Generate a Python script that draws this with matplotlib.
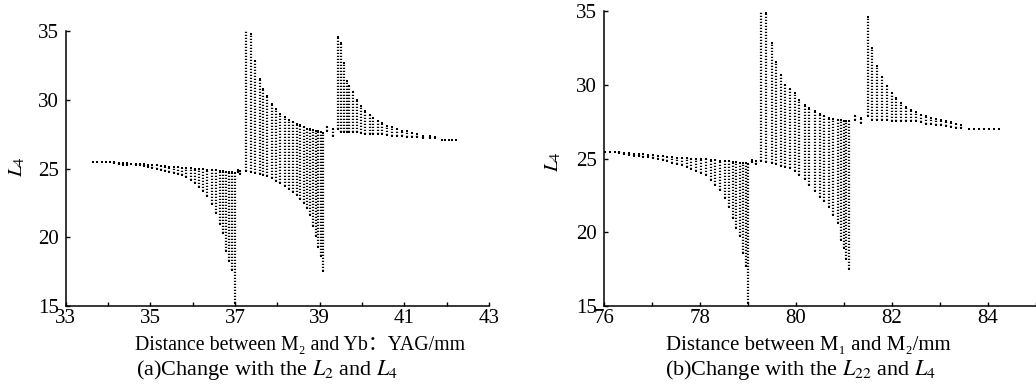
import numpy as np
import matplotlib
matplotlib.use("Agg")
import matplotlib.pyplot as plt

# ---- panel (a): columns of L4 solutions vs distance M2 - Yb:YAG ----
a_x = [33.65, 33.75, 33.85, 33.95, 34.05, 34.15, 34.25, 34.35, 34.45, 34.55, 34.65, 34.75,
       34.85, 34.95, 35.05, 35.15, 35.25, 35.35, 35.45, 35.55, 35.65, 35.75, 35.85, 35.95,
       36.05, 36.15, 36.25, 36.35, 36.45, 36.55, 36.65, 36.72, 36.79, 36.86, 36.93, 37.00,
       37.06, 37.12,
       37.26, 37.37, 37.48, 37.59, 37.67, 37.75, 37.87, 37.97, 38.07, 38.17, 38.27, 38.38,
       38.46, 38.54, 38.62, 38.70, 38.78, 38.85, 38.91, 38.97, 39.03, 39.08,
       39.18, 39.32,
       39.44, 39.50, 39.58, 39.64, 39.70, 39.78, 39.88, 39.97, 40.08, 40.18, 40.27, 40.37,
       40.47, 40.59, 40.71, 40.83, 40.94, 41.06, 41.18, 41.30, 41.45, 41.61, 41.73, 41.89,
       41.97, 42.05, 42.13, 42.21]
a_top = [25.45, 25.45, 25.45, 25.45, 25.45, 25.44, 25.42, 25.42, 25.40, 25.36, 25.34, 25.32,
         25.30, 25.28, 25.25, 25.22, 25.20, 25.17, 25.14, 25.12, 25.10, 25.07, 25.05, 25.02,
         25.00, 24.98, 24.95, 24.92, 24.90, 24.86, 24.83, 24.80, 24.78, 24.75, 24.72, 24.70,
         24.90, 24.85,
         35.10, 34.80, 32.80, 31.50, 30.80, 30.30, 29.70, 29.30, 29.00, 28.75, 28.55, 28.40,
         28.25, 28.15, 28.00, 27.90, 27.85, 27.80, 27.75, 27.70, 27.65, 27.60,
         28.00, 27.85,
         34.55, 34.10, 32.70, 31.35, 31.00, 30.60, 30.00, 29.55, 29.20, 28.90, 28.70, 28.47,
         28.30, 28.10, 28.00, 27.88, 27.76, 27.70, 27.60, 27.52, 27.40, 27.35, 27.28, 27.10,
         27.10, 27.10, 27.10, 27.10]
a_bot = [25.45, 25.45, 25.45, 25.45, 25.45, 25.38, 25.30, 25.25, 25.28, 25.30, 25.28, 25.25,
         25.15, 25.08, 25.02, 24.98, 24.90, 24.82, 24.76, 24.68, 24.62, 24.50, 24.35, 24.18,
         23.95, 23.65, 23.35, 23.00, 22.45, 21.75, 20.95, 20.30, 19.00, 18.30, 17.60, 15.20,
         24.75, 24.62,
         24.85, 24.75, 24.70, 24.60, 24.55, 24.45, 24.30, 24.10, 23.95, 23.75, 23.50, 23.30,
         23.05, 22.80, 22.50, 22.15, 21.60, 20.80, 20.10, 19.30, 18.60, 17.55,
         27.70, 27.40,
         27.88, 27.64, 27.64, 27.64, 27.64, 27.64, 27.64, 27.60, 27.52, 27.52, 27.52, 27.52,
         27.50, 27.45, 27.35, 27.35, 27.35, 27.30, 27.28, 27.28, 27.25, 27.20, 27.20, 27.10,
         27.10, 27.10, 27.10, 27.10]

# ---- panel (b): columns of L4 solutions vs distance M1 - M2 ----
b_x = [76.02, 76.12, 76.22, 76.32, 76.42, 76.52, 76.62, 76.72, 76.82, 76.92, 77.02, 77.12,
       77.22, 77.32, 77.42, 77.52, 77.62, 77.72, 77.82, 77.92, 78.02, 78.12, 78.22, 78.32,
       78.42, 78.52, 78.60, 78.68, 78.76, 78.83, 78.90, 78.96, 79.00,
       79.08, 79.16,
       79.28, 79.38, 79.49, 79.59, 79.69, 79.78, 79.87, 79.97, 80.07, 80.18, 80.28, 80.39,
       80.49, 80.59, 80.68, 80.77, 80.87, 80.94, 81.00, 81.05, 81.10,
       81.22, 81.35,
       81.49, 81.59, 81.69, 81.79, 81.89, 81.99, 82.09, 82.19, 82.29, 82.40, 82.50, 82.60,
       82.71, 82.81, 82.92, 83.02, 83.12, 83.23, 83.33, 83.44, 83.61, 83.71, 83.82, 83.92,
       84.02, 84.12, 84.23]
b_top = [25.43, 25.43, 25.43, 25.42, 25.40, 25.36, 25.33, 25.30, 25.28, 25.27, 25.22, 25.18,
         25.15, 25.12, 25.09, 25.06, 25.04, 25.02, 25.00, 24.98, 24.96, 24.94, 24.92, 24.90,
         24.86, 24.83, 24.80, 24.77, 24.74, 24.72, 24.70, 24.68, 24.66,
         24.93, 24.85,
         35.10, 34.85, 32.80, 31.57, 30.68, 30.00, 29.70, 29.44, 29.00, 28.65, 28.40, 28.20,
         28.02, 27.86, 27.75, 27.68, 27.64, 27.60, 27.57, 27.55, 27.52,
         27.86, 27.77,
         34.57, 32.48, 31.24, 30.52, 29.93, 29.44, 29.10, 28.76, 28.49, 28.31, 28.13, 27.97,
         27.86, 27.75, 27.68, 27.59, 27.52, 27.45, 27.36, 27.30, 27.03, 27.03, 27.03, 27.03,
         27.03, 27.03, 27.03]
b_bot = [25.43, 25.43, 25.43, 25.38, 25.30, 25.25, 25.20, 25.16, 25.12, 25.08, 25.02, 24.95,
         24.88, 24.82, 24.72, 24.62, 24.55, 24.40, 24.28, 24.15, 24.00, 23.85, 23.55, 23.22,
         22.85, 22.30, 21.70, 21.00, 20.30, 19.75, 18.60, 17.70, 15.20,
         24.75, 24.60,
         24.85, 24.78, 24.72, 24.62, 24.52, 24.45, 24.37, 24.15, 23.90, 23.58, 23.20, 22.79,
         22.40, 22.10, 21.70, 21.20, 20.60, 19.50, 18.90, 18.20, 17.50,
         27.64, 27.43,
         27.86, 27.64, 27.64, 27.64, 27.64, 27.52, 27.52, 27.52, 27.52, 27.52, 27.52, 27.45,
         27.36, 27.36, 27.30, 27.25, 27.20, 27.15, 27.10, 27.10, 27.03, 27.03, 27.03, 27.03,
         27.03, 27.03, 27.03]

a_xticks = [33, 35, 37, 39, 41, 43]
b_xticks = [76, 78, 80, 82, 84]
yticks = [15, 20, 25, 30, 35]

plt.rcParams['font.family'] = ['Liberation Serif', 'DejaVu Serif', 'Noto Sans CJK SC']
plt.rcParams['mathtext.fontset'] = 'stix'

FS = 15


def draw_columns(ax, xs, tops, bots):
    # each column of solutions is a dense dotted vertical strip
    ax.vlines(xs, bots, tops, colors='black', linewidth=1.6,
              linestyles=(0, (0.55, 0.8)))
    ax.scatter(xs, tops, s=4, marker='s', c='black', linewidths=0)
    ax.scatter(xs, bots, s=4, marker='s', c='black', linewidths=0)


def style_axes(ax, xlim, xticks):
    ax.set_xlim(xlim)
    ax.set_ylim(15, 35)
    ax.set_xticks(xticks)
    ax.set_xticks(np.arange(xlim[0], xlim[1] + 1, 1), minor=True)
    ax.set_yticks(yticks)
    ax.spines['top'].set_visible(False)
    ax.spines['right'].set_visible(False)
    for s in ('left', 'bottom'):
        ax.spines[s].set_linewidth(1.1)
    ax.tick_params(which='both', direction='in', length=3, width=1.0,
                   labelsize=FS)
    ax.tick_params(axis='x', pad=2)
    ax.tick_params(axis='y', pad=5)


fig = plt.figure(figsize=(10.36, 3.92), dpi=100)
ax1 = fig.add_axes([0.0634, 0.2194, 0.4086, 0.7015])
ax2 = fig.add_axes([0.583, 0.2194, 0.417, 0.7525])

draw_columns(ax1, a_x, a_top, a_bot)
draw_columns(ax2, b_x, b_top, b_bot)
style_axes(ax1, (33, 43), a_xticks)
style_axes(ax2, (76, 85), b_xticks)

# y labels
fig.text(17 / 1036, 1 - 167 / 392, r'$L_4$', rotation=90, ha='center', va='center',
         fontsize=FS)
fig.text(553 / 1036, 1 - 162 / 392, r'$L_4$', rotation=90, ha='center', va='center',
         fontsize=FS)

# x labels and captions
fig.text(300 / 1036, 1 - 345 / 392, 'Distance between M\u2082 and Yb\uff1aYAG/mm',
         ha='center', va='center', fontsize=14.3)
fig.text(267 / 1036, 1 - 370 / 392, r'(a)Change with the $L_2$ and $L_4$',
         ha='center', va='center', fontsize=16)
fig.text(808 / 1036, 1 - 345 / 392, 'Distance between M\u2081 and M\u2082/mm',
         ha='center', va='center', fontsize=FS)
fig.text(801 / 1036, 1 - 370 / 392, r'(b)Change with the $L_{22}$ and $L_4$',
         ha='center', va='center', fontsize=16)

fig.savefig('out.png', dpi=100)
